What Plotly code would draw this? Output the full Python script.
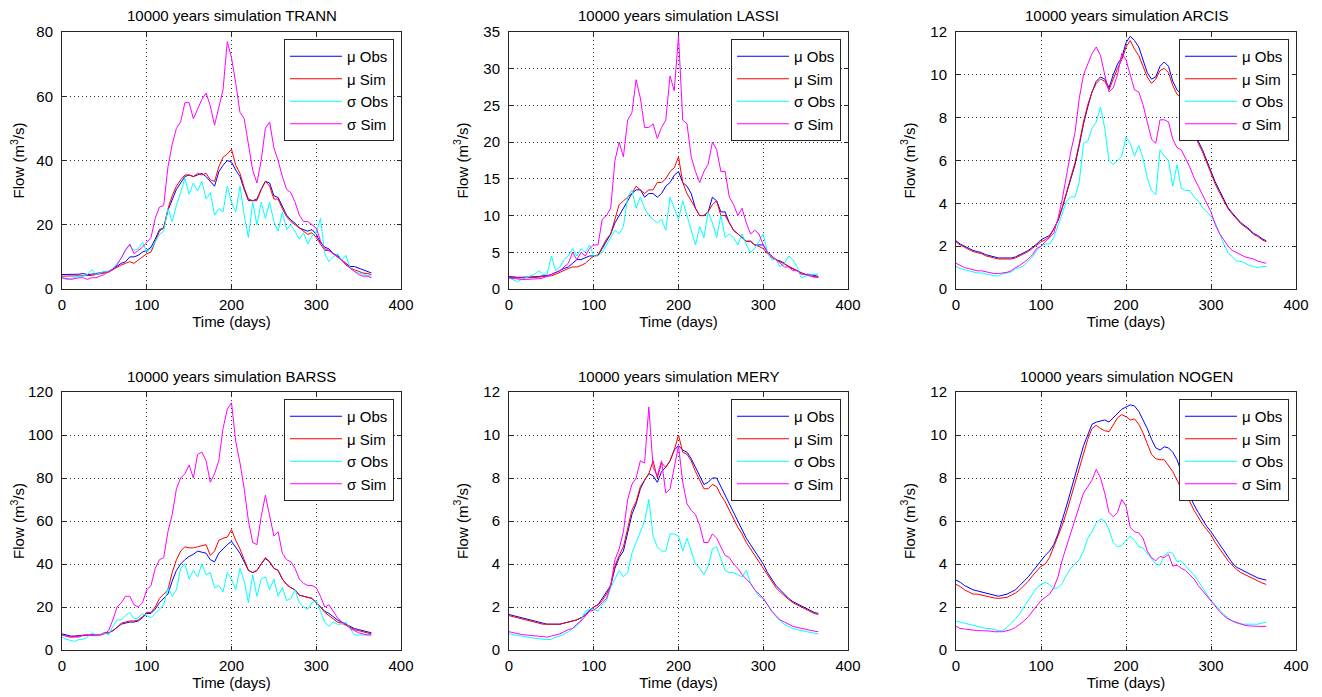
import plotly.graph_objects as go

PAGE_W, PAGE_H = 1322, 697
OFF = 8  # the html body margin pushes the figure 8px right and down
W, H = PAGE_W - OFF, PAGE_H - OFF

# day of year, sampled every 5 days
DAYS = list(range(0, 366, 5))

TRANN_MU_OBS = [4.5, 4.5, 4.5, 4.5, 4.6, 4.8, 4.5, 4.6, 4.8, 5.0,
                5.2, 5.5, 6.2, 7.2, 8.0, 8.5, 10.0, 10.0, 10.5, 11.5,
                12.0, 13.0, 15.5, 18.5, 19.0, 24.5, 28.0, 31.0, 33.0, 35.0,
                35.5, 35.0, 35.5, 36.0, 35.0, 33.5, 32.0, 36.5, 38.5, 40.0,
                39.5, 37.0, 35.0, 31.0, 27.5, 27.5, 28.0, 31.0, 33.5, 33.0,
                29.0, 28.5, 25.5, 23.0, 21.5, 20.5, 19.0, 18.5, 18.0, 18.5,
                17.0, 14.5, 13.0, 12.5, 11.0, 10.5, 9.0, 8.0, 7.0, 7.0,
                6.5, 6.0, 5.5, 5.0]
TRANN_MU_SIM = [4.0, 4.0, 4.0, 4.0, 4.0, 4.2, 4.0, 4.2, 4.5, 4.8,
                5.0, 5.2, 6.0, 6.8, 7.5, 8.0, 8.5, 8.0, 9.0, 10.0,
                11.0, 11.5, 14.5, 18.0, 19.0, 25.0, 29.0, 32.0, 34.0, 35.5,
                35.5, 35.0, 36.0, 35.5, 36.0, 34.0, 33.5, 38.0, 41.0, 42.0,
                43.5, 38.5, 36.0, 31.5, 28.0, 27.5, 27.5, 31.0, 33.5, 32.0,
                28.0, 28.0, 25.0, 22.5, 21.0, 20.0, 19.0, 18.0, 17.0, 17.5,
                16.0, 14.0, 12.0, 12.0, 11.0, 10.0, 9.0, 7.5, 6.5, 6.0,
                5.5, 5.0, 4.8, 4.5]
TRANN_SD_OBS = [3.5, 3.0, 3.2, 3.5, 4.0, 4.0, 4.5, 6.0, 4.5, 5.0,
                5.5, 5.5, 6.5, 8.0, 9.5, 12.5, 13.5, 12.0, 12.5, 14.5,
                11.5, 12.5, 15.0, 17.0, 18.0, 25.0, 21.0, 26.0, 30.0, 34.5,
                29.5, 33.0, 30.5, 33.5, 28.0, 30.0, 23.0, 25.0, 24.0, 32.0,
                27.0, 24.0, 32.0, 23.0, 16.0, 27.0, 20.0, 27.0, 22.0, 27.0,
                21.0, 18.0, 24.0, 18.5, 20.0, 18.0, 15.5, 17.5, 14.0, 16.5,
                17.5, 22.0, 11.0, 8.5, 10.0, 11.0, 9.0, 10.5, 6.5, 5.5,
                5.0, 4.5, 4.2, 4.0]
TRANN_SD_SIM = [3.5, 3.2, 3.0, 3.2, 3.5, 3.5, 3.0, 3.5, 3.5, 4.0,
                4.5, 5.5, 6.0, 7.5, 10.0, 12.0, 14.0, 11.0, 12.0, 13.0,
                14.5, 16.0, 22.0, 25.5, 26.0, 38.0, 45.0, 50.0, 52.0, 58.0,
                58.0, 53.0, 56.0, 59.0, 61.0, 57.0, 51.0, 57.0, 62.0, 77.0,
                72.0, 64.0, 55.0, 53.0, 45.0, 37.0, 33.0, 40.0, 50.0, 52.0,
                44.0, 40.0, 35.0, 31.0, 30.0, 27.0, 23.0, 21.0, 21.0, 20.0,
                19.0, 15.0, 12.5, 12.0, 11.0, 10.0, 9.0, 8.0, 6.5, 5.5,
                4.5, 4.0, 4.0, 3.5]

LASSI_MU_OBS = [1.7, 1.6, 1.6, 1.6, 1.6, 1.7, 1.7, 1.7, 1.8, 1.8,
                2.0, 2.2, 2.5, 2.8, 3.0, 3.5, 4.0, 4.0, 4.2, 4.5,
                4.5, 4.6, 5.5, 6.5, 7.5, 9.0, 10.0, 11.0, 12.0, 13.0,
                13.5, 13.5, 12.5, 13.0, 13.0, 12.5, 13.0, 14.0, 14.5, 15.5,
                16.0, 14.5, 14.0, 13.0, 11.0, 10.0, 10.0, 10.5, 12.5, 12.0,
                10.5, 10.5, 9.0, 8.0, 7.5, 7.0, 6.5, 6.5, 6.0, 6.0,
                6.0, 5.0, 4.5, 4.0, 3.8, 3.5, 3.0, 2.8, 2.5, 2.2,
                2.0, 2.0, 1.8, 1.7]
LASSI_MU_SIM = [1.6, 1.5, 1.5, 1.5, 1.5, 1.6, 1.6, 1.6, 1.7, 1.7,
                1.8, 2.0, 2.3, 2.6, 2.8, 3.0, 3.0, 3.2, 3.5, 4.0,
                4.5, 4.6, 5.8, 6.8, 7.5, 9.5, 11.5, 12.0, 12.5, 13.0,
                14.0, 13.5, 13.0, 13.5, 13.5, 14.5, 14.5, 15.0, 16.0, 16.5,
                18.0, 14.5, 13.0, 12.0, 11.0, 10.0, 10.0, 10.5, 11.5, 12.0,
                10.0, 10.0, 9.0, 8.0, 7.5, 7.0, 6.5, 6.5, 6.0, 5.8,
                5.5, 4.8, 4.3, 4.0, 3.7, 3.4, 3.0, 2.7, 2.4, 2.1,
                1.9, 1.8, 1.7, 1.6]
LASSI_SD_OBS = [1.5, 1.2, 1.0, 1.3, 1.5, 1.8, 2.0, 2.5, 2.0, 2.0,
                4.5, 2.5, 3.0, 4.0, 4.5, 5.5, 4.5, 5.5, 5.0, 6.0,
                4.5, 4.5, 5.0, 6.0, 7.0, 8.0, 7.5, 8.5, 12.5, 13.5,
                11.0, 12.5, 11.0, 10.0, 9.5, 9.0, 9.5, 8.0, 12.5, 11.0,
                9.5, 12.0, 10.0, 8.0, 6.0, 8.5, 7.0, 10.5, 9.0, 7.0,
                10.0, 7.0, 7.5, 7.0, 6.0, 7.5, 6.0, 5.0, 5.5, 6.5,
                7.5, 5.0, 4.0, 4.0, 3.0, 3.5, 4.5, 4.0, 3.0, 1.5,
                1.8, 2.0, 2.0, 2.0]
LASSI_SD_SIM = [1.5, 1.4, 1.3, 1.3, 1.3, 1.3, 1.3, 1.4, 1.5, 1.7,
                2.0, 2.2, 2.5, 3.0, 3.5, 5.0, 4.0, 5.0, 4.5, 5.5,
                6.0, 6.0, 9.5, 10.0, 11.0, 17.5, 20.0, 18.0, 23.0, 24.0,
                28.5, 26.0, 22.0, 22.0, 22.5, 20.5, 22.0, 23.0, 29.0, 27.0,
                34.5, 23.0, 22.5, 18.0, 16.0, 14.5, 16.0, 17.0, 20.0, 19.0,
                16.0, 16.0, 12.5, 11.5, 10.0, 11.0, 9.0, 7.5, 8.0, 7.5,
                6.0, 5.0, 4.5, 4.0, 3.5, 3.0, 3.0, 2.5, 2.5, 2.0,
                2.0, 1.8, 1.6, 1.6]

ARCIS_MU_OBS = [2.25, 2.1, 2.0, 1.9, 1.8, 1.75, 1.7, 1.6, 1.55, 1.5,
                1.45, 1.45, 1.45, 1.45, 1.5, 1.6, 1.7, 1.8, 1.95, 2.1,
                2.3, 2.4, 2.5, 2.8, 3.2, 3.8, 4.5, 5.2, 5.8, 6.7,
                7.7, 8.5, 9.2, 9.7, 9.9, 9.8, 9.4, 10.0, 10.5, 10.8,
                11.5, 11.8, 11.6, 11.3, 10.7, 10.1, 9.8, 9.9, 10.4, 10.6,
                10.4, 9.7, 9.3, 9.1, 8.8, 8.3, 7.5, 6.9, 6.5, 6.0,
                5.5, 5.0, 4.6, 4.2, 3.8, 3.55, 3.3, 3.1, 2.95, 2.8,
                2.6, 2.5, 2.35, 2.25]
ARCIS_MU_SIM = [2.2, 2.05, 1.95, 1.85, 1.75, 1.7, 1.65, 1.55, 1.5, 1.45,
                1.4, 1.4, 1.4, 1.4, 1.45, 1.55, 1.65, 1.75, 1.9, 2.05,
                2.2, 2.3, 2.45, 2.8, 3.2, 3.8, 4.5, 5.2, 5.9, 6.8,
                7.8, 8.6, 9.2, 9.6, 9.8, 9.7, 9.3, 9.8, 10.3, 10.7,
                11.3, 11.6, 11.2, 10.9, 10.4, 9.9, 9.6, 9.8, 10.2, 10.3,
                10.1, 9.5, 9.1, 8.9, 8.6, 8.1, 7.4, 6.8, 6.4, 5.9,
                5.4, 4.9, 4.5, 4.1, 3.75, 3.5, 3.25, 3.05, 2.9, 2.75,
                2.55, 2.45, 2.3, 2.2]
ARCIS_SD_OBS = [1.05, 0.95, 0.9, 0.85, 0.78, 0.75, 0.75, 0.7, 0.65, 0.62,
                0.6, 0.7, 0.75, 0.8, 0.95, 1.0, 1.1, 1.3, 1.5, 1.8,
                2.0, 2.1, 2.1, 2.4, 3.0, 3.6, 4.1, 4.3, 4.3, 5.0,
                6.8, 6.9, 7.5, 7.8, 8.5, 7.5, 6.0, 5.8, 6.0, 6.2,
                7.1, 6.8, 6.2, 6.7, 6.1, 5.2, 4.6, 4.4, 6.5, 6.2,
                6.0, 4.8, 5.8, 4.7, 4.6, 4.6, 4.3, 4.1, 3.8, 3.6,
                3.4, 3.1, 2.6, 2.1, 1.7, 1.5, 1.3, 1.3, 1.2, 1.1,
                1.05, 1.0, 1.05, 1.05]
ARCIS_SD_SIM = [1.2, 1.1, 1.0, 0.95, 0.9, 0.85, 0.85, 0.8, 0.75, 0.72,
                0.72, 0.75, 0.78, 0.85, 1.0, 1.1, 1.25, 1.4, 1.6, 1.9,
                2.0, 2.2, 2.4, 2.6, 3.3, 4.2, 5.3, 6.4, 7.3, 8.9,
                10.0, 10.5, 11.0, 11.3, 10.9, 10.0, 9.2, 9.4, 10.0, 11.0,
                10.7, 10.0, 9.3, 9.2, 8.6, 7.8, 7.0, 6.8, 7.9, 7.9,
                7.8, 7.0, 6.6, 6.5, 6.1, 5.7, 5.2, 4.8, 4.4, 4.0,
                3.6, 3.0, 2.6, 2.3, 2.0, 1.8, 1.7, 1.6, 1.5, 1.45,
                1.4, 1.3, 1.25, 1.2]

BARSS_MU_OBS = [7.5, 7.0, 6.5, 6.5, 6.8, 6.8, 7.0, 7.0, 7.0, 7.0,
                8.0, 8.0, 9.0, 10.5, 12.0, 12.5, 13.0, 13.0, 13.5, 15.0,
                17.0, 17.0, 19.0, 22.0, 24.0, 26.0, 32.0, 37.0, 40.0, 42.0,
                43.5, 44.5, 46.0, 45.5, 45.0, 42.0, 41.0, 45.0, 47.0, 49.0,
                50.5, 48.0, 45.0, 41.0, 37.0, 36.0, 37.0, 40.0, 42.5, 41.0,
                38.0, 37.0, 33.0, 30.5, 29.0, 28.0, 25.5, 25.0, 24.5, 24.0,
                22.0, 20.0, 18.0, 17.0, 15.5, 14.0, 13.0, 12.0, 11.0, 10.0,
                9.5, 9.0, 8.5, 8.0]
BARSS_MU_SIM = [7.0, 6.5, 6.0, 6.3, 6.5, 6.5, 7.0, 7.0, 7.0, 7.0,
                8.0, 8.0, 9.0, 10.5, 12.5, 13.0, 13.5, 13.5, 14.0, 15.5,
                17.5, 17.5, 20.0, 24.0, 26.0, 28.0, 36.0, 42.0, 46.0, 48.0,
                47.5, 47.5, 48.0, 48.5, 49.0, 44.0, 46.0, 51.0, 52.0, 52.5,
                56.0, 51.0, 47.0, 42.0, 37.0, 36.0, 37.0, 40.0, 43.0, 41.0,
                38.0, 37.0, 33.0, 30.5, 29.0, 28.0, 25.5, 25.0, 24.5, 24.0,
                22.0, 20.0, 17.5, 16.0, 14.5, 13.0, 12.5, 11.5, 10.5, 9.5,
                9.0, 8.5, 8.0, 7.5]
BARSS_SD_OBS = [6.0, 5.0, 4.5, 4.0, 5.0, 5.0, 6.0, 8.0, 7.0, 7.0,
                8.0, 7.0, 11.0, 14.0, 14.0, 16.0, 17.5, 14.5, 15.0, 17.0,
                16.0, 15.0, 17.0, 19.0, 21.0, 29.0, 25.0, 28.0, 38.0, 40.0,
                33.0, 37.0, 34.0, 40.0, 35.0, 36.0, 29.0, 30.0, 27.0, 36.0,
                33.0, 28.0, 38.0, 32.0, 22.0, 35.0, 25.0, 33.0, 34.0, 28.0,
                33.0, 25.0, 29.0, 23.0, 24.0, 28.0, 22.0, 20.0, 19.0, 22.0,
                23.0, 18.0, 13.0, 11.0, 13.0, 12.0, 12.0, 13.0, 10.0, 7.0,
                7.0, 7.0, 7.0, 7.0]
BARSS_SD_SIM = [7.0, 6.5, 6.0, 6.0, 6.0, 7.0, 7.0, 7.0, 7.0, 7.0,
                7.5, 9.0, 14.0, 20.0, 22.0, 25.0, 25.0, 21.0, 20.0, 22.0,
                28.0, 30.0, 38.0, 42.0, 43.0, 55.0, 63.0, 75.0, 80.0, 82.0,
                86.0, 80.0, 91.0, 92.0, 88.0, 78.0, 82.0, 88.0, 103.0, 112.0,
                115.0, 97.0, 87.0, 75.0, 60.0, 50.0, 49.0, 62.0, 72.0, 62.0,
                53.0, 55.0, 45.0, 42.0, 41.0, 38.0, 33.0, 31.0, 30.0, 30.0,
                29.0, 25.0, 20.0, 21.0, 18.0, 15.0, 13.0, 12.0, 10.0, 9.0,
                8.0, 7.5, 7.0, 7.0]

MERY_MU_OBS = [1.65, 1.6, 1.55, 1.5, 1.45, 1.4, 1.35, 1.3, 1.25, 1.2,
               1.2, 1.2, 1.2, 1.25, 1.3, 1.35, 1.4, 1.5, 1.65, 1.85,
               2.0, 2.1, 2.4, 2.7, 3.0, 3.8, 4.3, 4.6, 5.5, 6.3,
               6.8, 7.5, 7.9, 8.2, 8.1, 7.8, 8.3, 8.5, 8.8, 9.3,
               9.5, 9.3, 9.2, 8.9, 8.5, 8.1, 7.7, 7.8, 8.0, 8.0,
               7.6, 7.2, 6.8, 6.4, 6.0, 5.6, 5.2, 4.9, 4.6, 4.3,
               4.0, 3.6, 3.3, 3.0, 2.8, 2.6, 2.4, 2.25, 2.15, 2.05,
               1.95, 1.85, 1.75, 1.7]
MERY_MU_SIM = [1.6, 1.55, 1.5, 1.45, 1.4, 1.35, 1.3, 1.25, 1.2, 1.2,
               1.2, 1.2, 1.2, 1.25, 1.3, 1.35, 1.4, 1.5, 1.6, 1.8,
               2.0, 2.1, 2.3, 2.6, 3.0, 3.9, 4.4, 4.8, 5.6, 6.5,
               6.9, 7.6, 7.9, 8.2, 8.8, 8.0, 8.7, 8.5, 8.8, 9.3,
               10.0, 9.2, 9.1, 8.8, 8.3, 7.9, 7.5, 7.5, 7.7, 7.6,
               7.2, 6.9, 6.5, 6.1, 5.7, 5.4, 5.0, 4.7, 4.4, 4.1,
               3.8, 3.5, 3.2, 2.9, 2.7, 2.5, 2.35, 2.2, 2.1, 2.0,
               1.9, 1.8, 1.7, 1.65]
MERY_SD_OBS = [0.75, 0.7, 0.68, 0.65, 0.6, 0.58, 0.55, 0.52, 0.5, 0.48,
               0.5, 0.6, 0.65, 0.75, 0.85, 1.0, 1.1, 1.4, 1.8, 1.9,
               1.9, 1.8, 2.1, 2.3, 2.9, 3.3, 3.7, 3.4, 3.6, 4.5,
               5.0, 5.5, 6.0, 7.0, 5.3, 4.8, 4.6, 4.6, 5.4, 5.4,
               5.3, 4.6, 5.2, 4.6, 4.0, 3.8, 3.5, 3.9, 4.7, 4.8,
               4.2, 3.7, 3.6, 3.6, 3.5, 3.4, 3.7, 3.1, 2.8, 2.5,
               2.4, 2.1, 1.8, 1.55, 1.35, 1.2, 1.1, 1.0, 0.95, 0.9,
               0.85, 0.8, 0.78, 0.75]
MERY_SD_SIM = [0.85, 0.8, 0.75, 0.72, 0.7, 0.68, 0.65, 0.62, 0.6, 0.6,
               0.65, 0.7, 0.75, 0.85, 0.95, 1.0, 1.2, 1.35, 1.6, 1.8,
               1.85, 2.0, 2.2, 2.4, 3.0, 4.2, 4.7, 5.5, 7.0, 7.7,
               8.0, 8.8, 8.7, 11.3, 8.5, 8.1, 8.8, 7.3, 7.5, 8.5,
               9.5, 7.8, 6.8, 6.5, 6.3, 5.8, 5.0, 5.0, 5.4, 5.2,
               4.8, 4.4, 4.3, 4.0, 3.8, 3.5, 3.3, 3.1, 2.8, 2.6,
               2.4, 2.1, 1.8, 1.6, 1.4, 1.3, 1.2, 1.1, 1.05, 1.0,
               0.95, 0.9, 0.88, 0.85]

NOGEN_MU_OBS = [3.25, 3.15, 3.0, 2.9, 2.8, 2.75, 2.7, 2.65, 2.6, 2.55,
                2.5, 2.55, 2.6, 2.7, 2.8, 3.0, 3.2, 3.4, 3.65, 3.9,
                4.2, 4.4, 4.6, 4.9, 5.4, 6.0, 6.7, 7.4, 8.1, 8.8,
                9.5, 10.0, 10.5, 10.6, 10.65, 10.7, 10.6, 10.8, 11.0, 11.2,
                11.3, 11.4, 11.35, 11.1, 10.7, 10.3, 9.8, 9.4, 9.3, 9.45,
                9.4, 9.2, 8.85, 8.3, 7.6, 7.15, 6.75, 6.4, 6.05, 5.75,
                5.5, 5.2, 4.9, 4.6, 4.3, 4.05, 3.85, 3.75, 3.65, 3.55,
                3.45, 3.35, 3.3, 3.25]
NOGEN_MU_SIM = [3.05, 2.95, 2.8, 2.7, 2.6, 2.6, 2.55, 2.5, 2.45, 2.42,
                2.4, 2.42, 2.45, 2.55, 2.65, 2.8, 3.0, 3.2, 3.45, 3.7,
                3.9, 4.0, 4.3, 4.8, 5.3, 5.8, 6.4, 7.1, 7.8, 8.5,
                9.2, 9.8, 10.3, 10.45, 10.3, 10.2, 10.15, 10.5, 10.8, 10.95,
                10.85, 10.7, 10.75, 10.5, 10.1, 9.6, 9.1, 8.9, 8.85, 8.85,
                8.6, 8.3, 7.9, 7.5, 7.2, 6.9, 6.5, 6.15, 5.85, 5.6,
                5.35, 5.0, 4.7, 4.4, 4.15, 3.95, 3.75, 3.6, 3.5, 3.4,
                3.3, 3.2, 3.12, 3.05]
NOGEN_SD_OBS = [1.35, 1.3, 1.25, 1.2, 1.15, 1.1, 1.05, 1.0, 1.0, 0.95,
                0.9, 0.9, 1.05, 1.25, 1.45, 1.7, 2.0, 2.3, 2.6, 2.9,
                3.05, 3.15, 3.05, 2.85, 2.9, 3.1, 3.5, 3.8, 4.0, 4.2,
                4.6, 5.2, 5.5, 5.9, 6.1, 6.0, 5.6, 5.0, 4.8, 4.85,
                5.1, 5.3, 5.1, 4.8, 4.75, 4.5, 4.2, 4.0, 3.95, 4.4,
                4.55, 4.5, 4.1, 4.15, 3.9, 3.7, 3.5, 3.2, 2.9, 2.6,
                2.3, 2.1, 1.85, 1.65, 1.5, 1.35, 1.25, 1.2, 1.2, 1.2,
                1.2, 1.2, 1.25, 1.3]
NOGEN_SD_SIM = [1.1, 1.0, 0.98, 0.95, 0.9, 0.9, 0.9, 0.9, 0.88, 0.85,
                0.85, 0.85, 0.9, 0.95, 1.05, 1.2, 1.35, 1.55, 1.8, 2.05,
                2.3, 2.45, 2.6, 2.9, 3.4, 4.2, 4.8, 5.4, 6.0, 6.6,
                7.3, 7.6, 7.9, 8.4, 8.0, 7.3, 6.4, 6.2, 6.4, 7.0,
                6.7, 5.7, 5.5, 5.45, 5.2, 4.6, 4.3, 4.15, 4.35, 4.3,
                4.45, 3.9, 3.95, 3.8, 3.7, 3.5, 3.3, 3.0, 2.75, 2.55,
                2.3, 2.05, 1.8, 1.6, 1.45, 1.35, 1.28, 1.2, 1.15, 1.12,
                1.1, 1.1, 1.1, 1.1]

STATIONS = ["TRANN", "LASSI", "ARCIS", "BARSS", "MERY", "NOGEN"]
SERIES = {
    "TRANN": [TRANN_MU_OBS, TRANN_MU_SIM, TRANN_SD_OBS, TRANN_SD_SIM],
    "LASSI": [LASSI_MU_OBS, LASSI_MU_SIM, LASSI_SD_OBS, LASSI_SD_SIM],
    "ARCIS": [ARCIS_MU_OBS, ARCIS_MU_SIM, ARCIS_SD_OBS, ARCIS_SD_SIM],
    "BARSS": [BARSS_MU_OBS, BARSS_MU_SIM, BARSS_SD_OBS, BARSS_SD_SIM],
    "MERY": [MERY_MU_OBS, MERY_MU_SIM, MERY_SD_OBS, MERY_SD_SIM],
    "NOGEN": [NOGEN_MU_OBS, NOGEN_MU_SIM, NOGEN_SD_OBS, NOGEN_SD_SIM],
}
Y_MAX = [80, 35, 12, 120, 12, 12]
Y_STEP = [20, 5, 2, 20, 2, 2]
NAMES = ["μ Obs", "μ Sim", "σ Obs", "σ Sim"]
COLORS = ["#0000ff", "#ff0000", "#00ffff", "#ff00ff"]

# axes boxes in page pixels (left, right) and (top, bottom)
COLS = [(62, 401), (509, 848), (956, 1296)]
ROWS = [(32, 289), (392, 650)]

FONT = "Liberation Sans, Arial, sans-serif"
TXT = dict(size=15, color="black", family=FONT)


def px(x):
    return (x - OFF) / W


def py(y):
    return 1 - (y - OFF) / H


fig = go.Figure()
annotations = []

for i, st in enumerate(STATIONS):
    l, r = COLS[i % 3]
    t, b = ROWS[i // 3]
    sfx = "" if i == 0 else str(i + 1)

    for k in range(4):
        fig.add_trace(go.Scatter(
            x=DAYS, y=SERIES[st][k], mode="lines", name=NAMES[k],
            line=dict(color=COLORS[k], width=1),
            xaxis="x" + sfx, yaxis="y" + sfx,
            legend="legend" + sfx, legendgroup=f"{st}{k}",
        ))

    axis_common = dict(
        showline=True, linecolor="#262626", linewidth=1, mirror="ticks",
        ticks="inside", ticklen=4, tickcolor="#262626",
        showgrid=True, gridcolor="#333333", griddash="1px,3px", gridwidth=1,
        zeroline=False, tickfont=TXT, automargin=False,
    )
    fig.layout["xaxis" + sfx] = dict(
        axis_common, domain=[px(l), px(r)], anchor="y" + sfx,
        range=[0, 400], tickvals=[0, 100, 200, 300, 400], ticklabelstandoff=2,
        title=dict(text="Time (days)", font=TXT, standoff=3),
    )
    fig.layout["yaxis" + sfx] = dict(
        axis_common, domain=[py(b), py(t)], anchor="x" + sfx,
        range=[0, Y_MAX[i]], dtick=Y_STEP[i], tick0=0, ticklabelstandoff=5,
        title=dict(text="Flow (m<sup>3</sup>/s)", font=TXT, standoff=11),
    )
    fig.layout["legend" + sfx] = dict(
        x=px(r - 7), y=py(t + 7), xanchor="right", yanchor="top",
        bordercolor="#262626", borderwidth=1, bgcolor="white",
        font=dict(size=15, color="black", family=FONT),
        tracegroupgap=0, itemwidth=52,
    )
    annotations.append(dict(
        text=f"10000 years simulation {st}", x=px((l + r) / 2), y=py(t - 16),
        xref="paper", yref="paper", xanchor="center", yanchor="middle",
        showarrow=False, font=TXT,
    ))

fig.update_layout(
    width=W, height=H, margin=dict(l=0, r=0, t=0, b=0),
    paper_bgcolor="white", plot_bgcolor="white",
    annotations=annotations, showlegend=True,
)

fig.write_html("out.html")
